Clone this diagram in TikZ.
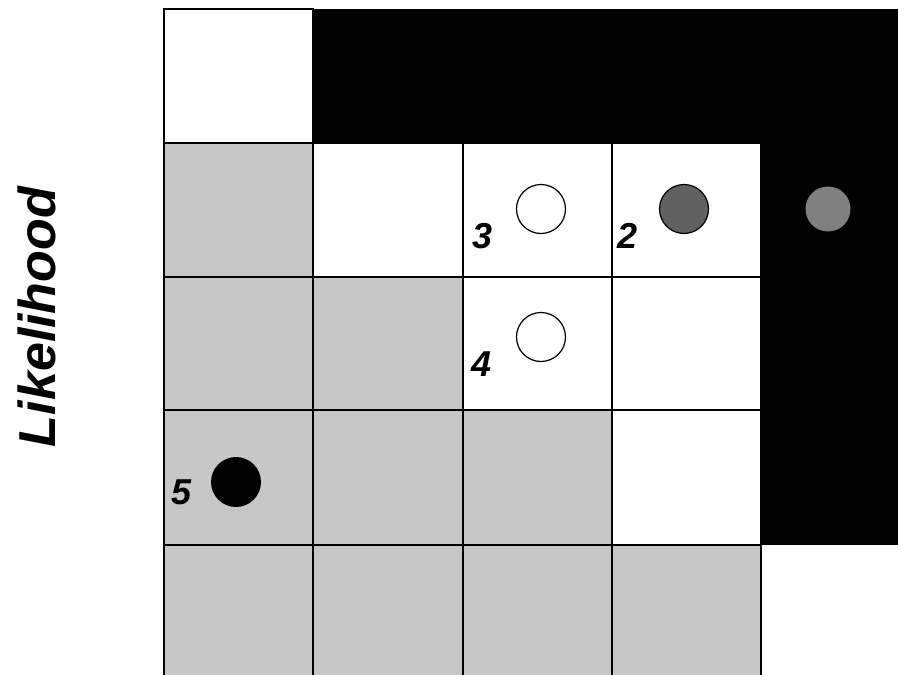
\documentclass[tikz,border=0pt]{standalone}
\usepackage{fontspec}
\setmainfont{Liberation Sans}
\begin{document}
\begin{tikzpicture}[x=1pt,y=-1pt,
  lightcell/.style={fill=black!22},
  whitecell/.style={fill=white},
  gridline/.style={draw=black,line width=2.2pt},
  num/.style={font=\bfseries\itshape\fontsize{36}{36}\selectfont,inner sep=0pt},
  dot/.style={circle,minimum size=49pt,inner sep=0pt}]
\useasboundingbox (0,0) rectangle (898,675);
\fill[white] (0,0) rectangle (898,675);
% black region
\fill[black] (313,9) rectangle (898,143);
\fill[black] (761,143) rectangle (898,545);
% light cells
\fill[lightcell] (164,143) rectangle (313,675);
\fill[lightcell] (313,277) rectangle (463,675);
\fill[lightcell] (463,410) rectangle (612,675);
\fill[lightcell] (612,545) rectangle (761,675);
% grid lines
\draw[gridline] (164,675) -- (164,9) -- (313,9) -- (313,675);
\draw[gridline] (164,143) -- (761,143);
\draw[gridline] (164,277) -- (761,277);
\draw[gridline] (164,410) -- (761,410);
\draw[gridline] (164,545) -- (761,545);
\draw[gridline] (463,143) -- (463,675);
\draw[gridline] (612,143) -- (612,675);
\draw[gridline] (761,143) -- (761,675);
% circles
\node[dot,draw=black,line width=1.2pt,fill=white] (c3) at (541,209) {};
\node[dot,draw=black,line width=1.2pt,fill=black!62] (c2) at (684,209) {};
\node[dot,draw=black,line width=1.2pt,fill=white] (c4) at (541,337) {};
\node[dot,fill=black!50,minimum size=45pt] (c1) at (828,209) {};
\node[dot,fill=black,minimum size=50pt] (c5) at (236,482) {};
% labels
\node[num] (l3) at (483,236) {3};
\node[num] (l2) at (628,236) {2};
\node[num] (l4) at (482,364) {4};
\node[num] (l5) at (182,492) {5};
\node[rotate=90,font=\bfseries\itshape\fontsize{52}{52}\selectfont,inner sep=0pt] (lk) at (37,317) {Likelihood};
\end{tikzpicture}
\end{document}
